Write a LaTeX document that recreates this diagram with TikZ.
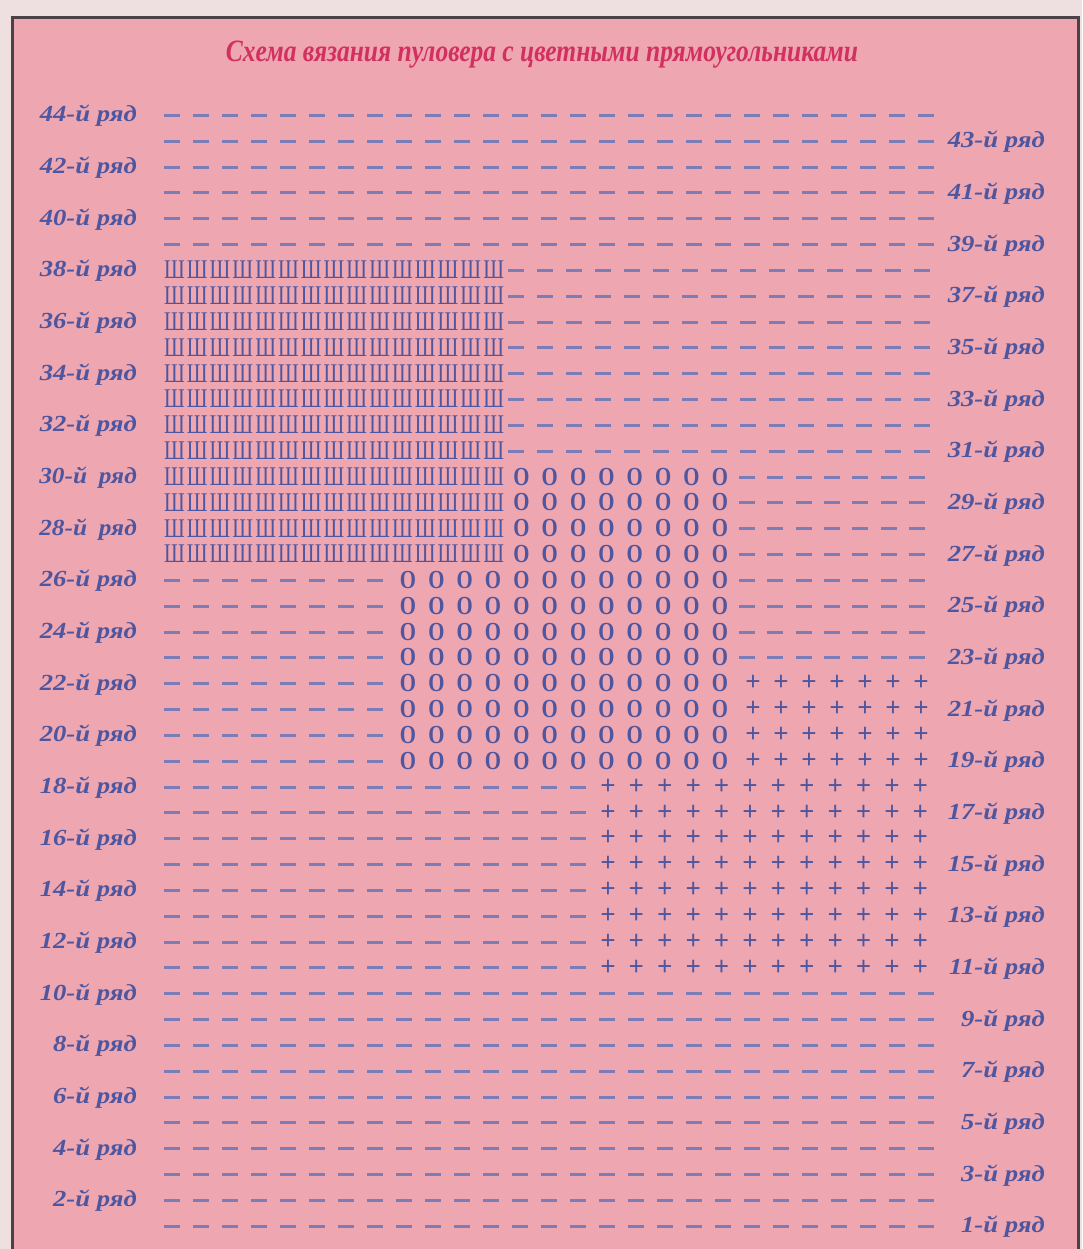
\documentclass[tikz,border=0pt]{standalone}
\usepackage{fontspec}
\usepackage{graphicx}
\setmainfont{Liberation Serif}
\definecolor{bgpink}{RGB}{238,166,176}
\definecolor{paper}{RGB}{238,224,224}
\definecolor{framec}{RGB}{75,65,70}
\definecolor{ink}{RGB}{78,86,160}
\definecolor{dashink}{RGB}{124,124,182}
\definecolor{titlered}{RGB}{210,48,96}
\tikzset{
  lbl/.style={font=\fontsize{23}{26}\selectfont\bfseries\itshape, text=ink, inner sep=0pt, anchor=base east},
  dsh/.style={draw=dashink, line width=2.6pt},
  shg/.style={font=\fontsize{27}{28}\selectfont, text=ink, inner sep=0pt, xscale=0.76},
  og/.style={font=\fontsize{26}{28}\selectfont\bfseries, text=ink, inner sep=0pt, xscale=0.8},
  pg/.style={font=\fontsize{27}{28}\selectfont\bfseries, text=ink, inner sep=0pt},
  ttl/.style={font=\fontsize{31}{33}\selectfont\bfseries\itshape, text=titlered, inner sep=0pt, anchor=base},
}
% #1 row, #2 first centre, #3 pitch, #4 count
\newcommand\dashrow[4]{%
  \pgfmathsetmacro\dy{round(115+(44-#1)*25.83)+0.5}%
  \foreach \k in {1,...,#4}{%
    \draw[dsh] ({#2+(\k-1)*#3-8},\dy) -- ++(16,0);
  }}
% #1 row, #2 first centre, #3 pitch, #4 count, #5 style, #6 glyph, #7 name
\newcommand\glyphrow[7]{%
  \foreach \k in {1,...,#4}{%
    \node[#5] (#7-#1-\k) at ({#2+(\k-1)*#3},{115+(44-#1)*25.83}) {#6};
  }}
\begin{document}
\begin{tikzpicture}[x=1pt,y=-1pt]
\useasboundingbox (0,0) rectangle (1082,1249);
\fill[paper] (0,0) rectangle (1082,1249);
\fill[bgpink] (12,18) rectangle (1078,1249);
\draw[framec, line width=3pt] (12,1249) -- (12,18) -- (1078,18) -- (1078,1249);

\node[ttl] (title) at (542,62) {\resizebox{632pt}{\height}{Схема вязания пуловера с цветными прямоугольниками}};

% labels
\foreach \r in {44,42,...,32,26,24,...,2}{
  \node[lbl] (L\r) at (137,{115+(44-\r)*25.83+7}) {\scalebox{1.16}[1]{\r-й ряд}};
}
\foreach \r in {30,28}{
  \node[lbl] (L\r) at (137,{115+(44-\r)*25.83+7}) {\scalebox{1.1}[1]{\r-й\hspace{5pt} ряд}};
}
\foreach \r in {43,41,...,1}{
  \node[lbl] (R\r) at (1045,{115+(44-\r)*25.83+7}) {\scalebox{1.16}[1]{\r-й ряд}};
}

% full dash rows
\foreach \r in {44,43,...,39}{ \dashrow{\r}{172}{29}{27} }
\foreach \r in {10,9,...,1}{ \dashrow{\r}{172}{29}{27} }

% rows 38-31: Sh then dashes
\foreach \r in {38,37,...,31}{
  \glyphrow{\r}{174.4}{22.8}{15}{shg}{Ш}{s}
  \dashrow{\r}{516}{29}{15}
}
% rows 30-27: Sh, O, dashes
\foreach \r in {30,29,28,27}{
  \glyphrow{\r}{174.4}{22.8}{15}{shg}{Ш}{s}
  \glyphrow{\r}{521.4}{28.35}{8}{og}{O}{o}
  \dashrow{\r}{747}{28.3}{7}
}
% rows 26-23: dashes, O, dashes
\foreach \r in {26,25,24,23}{
  \dashrow{\r}{172}{29}{8}
  \glyphrow{\r}{408}{28.35}{12}{og}{O}{o}
  \dashrow{\r}{747}{28.3}{7}
}
% rows 22-19: dashes, O, plus
\foreach \r in {22,21,20,19}{
  \dashrow{\r}{172}{29}{8}
  \glyphrow{\r}{408}{28.35}{12}{og}{O}{o}
  \glyphrow{\r}{753}{28}{7}{pg}{+}{p}
}
% rows 18-11: dashes, plus
\foreach \r in {18,17,...,11}{
  \dashrow{\r}{172}{29}{15}
  \glyphrow{\r}{608}{28.4}{12}{pg}{+}{p}
}
\end{tikzpicture}
\end{document}
